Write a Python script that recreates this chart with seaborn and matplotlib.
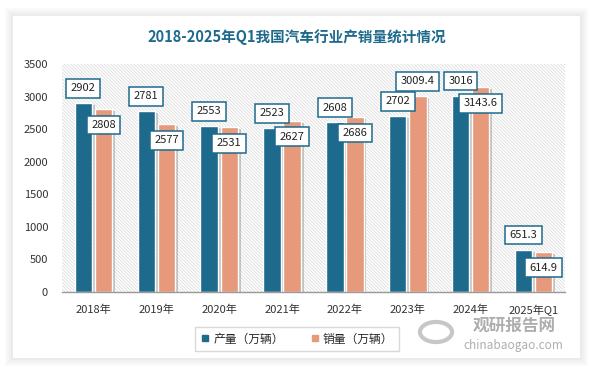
import matplotlib
matplotlib.use("Agg")
import matplotlib.pyplot as plt
import matplotlib.patheffects as pe
from matplotlib.patches import Rectangle
from matplotlib.lines import Line2D
import pandas as pd
import seaborn as sns

years = ["2018年", "2019年", "2020年", "2021年", "2022年", "2023年", "2024年", "2025年Q1"]
production = [2902, 2781, 2553, 2523, 2608, 2702, 3016, 651.3]
sales = [2808, 2577, 2531, 2627, 2686, 3009.4, 3143.6, 614.9]
prod_labels = ["2902", "2781", "2553", "2523", "2608", "2702", "3016", "651.3"]
sales_labels = ["2808", "2577", "2531", "2627", "2686", "3009.4", "3143.6", "614.9"]
# label above (+1) or below (-1) the bar top, as placed in the original chart
sales_side = [-1, -1, -1, -1, -1, 1, -1, -1]
series_names = ["产量（万辆）", "销量（万辆）"]

blue = "#1E6A8D"
salmon = "#E69A7B"

df = pd.DataFrame({
    "year": years * 2,
    "value": production + sales,
    "series": [series_names[0]] * len(years) + [series_names[1]] * len(years),
})

sns.set_style("white")
plt.rcParams["font.family"] = ["Noto Sans CJK SC", "DejaVu Sans"]
plt.rcParams["hatch.color"] = "#d6d6d6"
plt.rcParams["hatch.linewidth"] = 0.5

fig = plt.figure(figsize=(5.95, 3.72), dpi=100, facecolor="white")

# card shadow + white card
W, H = 595.0, 372.0
x0, y0, x1, y1 = 13, 16, 580, 358
for g in [8, 6, 4, 2]:
    fig.patches.append(Rectangle(((x0 - g) / W, 1 - (y1 + g) / H), (x1 - x0 + 2 * g) / W,
                                 (y1 - y0 + 2 * g) / H, transform=fig.transFigure,
                                 facecolor="#777777", alpha=0.035, edgecolor="none", zorder=0))
fig.patches.append(Rectangle((x0 / W, 1 - y1 / H), (x1 - x0) / W, (y1 - y0) / H,
                             transform=fig.transFigure, facecolor="white",
                             edgecolor="none", zorder=1))

ax = fig.add_axes([62 / W, 1 - 292 / H, (565 - 62) / W, (292 - 64) / H])
ax.set_zorder(3)
ax.set_facecolor("none")
ax.add_patch(Rectangle((0, 0), 1, 1, transform=ax.transAxes, facecolor="white",
                       hatch="\\" * 10, edgecolor="#d6d6d6", linewidth=0, zorder=0))

sns.barplot(data=df, x="year", y="value", hue="series", palette=[blue, salmon],
            saturation=1, width=0.64, gap=0.14, ax=ax, legend=True,
            edgecolor="white", linewidth=1, zorder=2)

shadow = [pe.SimplePatchShadow(offset=(2, -1.5), shadow_rgbFace="#888888", alpha=0.45), pe.Normal()]
for cont in ax.containers:
    for p in cont.patches:
        p.set_path_effects(shadow)

box = dict(boxstyle="square,pad=0.4", fc="white", ec=blue, lw=1.1)
for cont, labels, sides in [(ax.containers[0], prod_labels, [1] * len(years)),
                            (ax.containers[1], sales_labels, sales_side)]:
    for p, lab, s in zip(cont.patches, labels, sides):
        cx = p.get_x() + p.get_width() / 2
        ax.annotate(lab, (cx, p.get_height()), xytext=(0, 10.5 if s > 0 else -11.5),
                    textcoords="offset points", ha="center", va="center", fontsize=8,
                    color="#222222", bbox=box, zorder=5)

ax.set_ylim(0, 3500)
ax.set_xlim(-0.5, len(years) - 0.5)
ax.set_yticks(range(0, 3501, 500))
ax.set_xlabel("")
ax.set_ylabel("")
ax.tick_params(axis="both", labelsize=8, colors="#333333", length=0)
ax.tick_params(axis="x", pad=9)
ax.tick_params(axis="y", pad=10)
for side in ["top", "right", "left"]:
    ax.spines[side].set_visible(False)
ax.spines["bottom"].set_color("#999999")
ax.spines["bottom"].set_linewidth(1)

ax.legend_.remove()
hs = [Line2D([], [], marker="s", linestyle="none", markersize=5, color=c) for c in [blue, salmon]]
leg = fig.legend(hs, series_names, loc="center", bbox_to_anchor=(297 / W, 1 - 339 / H), ncol=2,
                 fontsize=8.5, frameon=True, fancybox=False, edgecolor="#d0d0d0",
                 handletextpad=0.3, columnspacing=2.2, borderpad=0.45, handlelength=0.8)
leg.set_zorder(4)

fig.text(297 / W, 1 - 37 / H, "2018-2025年Q1我国汽车行业产销量统计情况", ha="center", va="center",
         fontsize=10.5, fontweight="bold", color=blue, zorder=4)

# watermark
fig.text(514 / W, 1 - 326 / H, "观研报告网", ha="center", va="center", fontsize=12,
         fontweight="bold", color="#9a9a9a", alpha=0.8, zorder=4)
fig.text(513 / W, 1 - 345 / H, "chinabaogao.com", ha="center", va="center", fontsize=8.5,
         color="#9a9a9a", alpha=0.8, zorder=4)
fig.patches.append(plt.Circle((436 / W, 1 - 332 / H), 0.027, transform=fig.transFigure,
                              fill=False, edgecolor="#b0b0b0", linewidth=3, alpha=0.7, zorder=3))

fig.savefig("out.png", dpi=100, facecolor="white")
